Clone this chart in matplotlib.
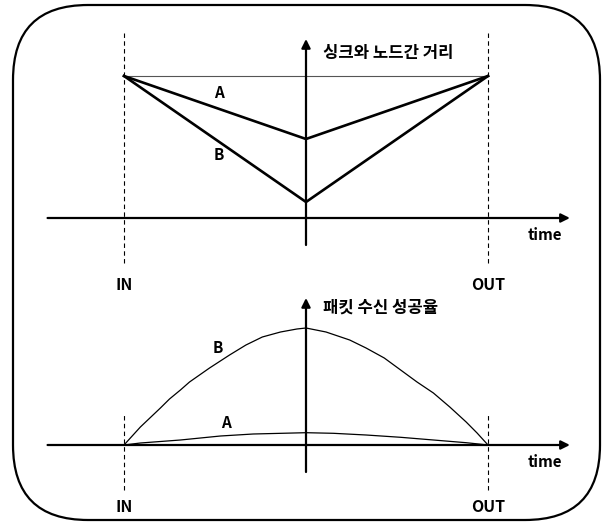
import matplotlib
matplotlib.use('Agg')
import matplotlib.pyplot as plt
from matplotlib.patches import FancyBboxPatch

plt.rcParams['font.family'] = ['Noto Sans CJK KR', 'DejaVu Sans']

# time axis: IN = -1, sink closest = 0, OUT = 1
dist_time = [-1.0, 0.0, 1.0]
# distance between sink and node (top chart)
dist_A = [142, 79, 142]
dist_B = [142, 16, 142]

# packet reception rate (bottom chart)
time_B = [-1.0, -0.91, -0.80, -0.75, -0.69, -0.64, -0.53, -0.42, -0.33,
          -0.24, -0.14, -0.05, 0.0, 0.11, 0.24, 0.33, 0.43, 0.52, 0.61,
          0.70, 0.79, 0.88, 0.94, 1.0]
rate_B = [0, 18, 37, 46, 55, 63, 77, 90, 100, 108, 113, 116, 117, 113,
          105, 97, 87, 75, 63, 52, 38, 23, 12, 0]
time_A = [-1.0, -0.91, -0.69, -0.47, -0.29, 0.0, 0.15, 0.33, 0.52, 0.70,
          0.88, 1.0]
rate_A = [0, 2, 5, 9, 11, 12.3, 11.7, 10, 7.7, 5, 2.3, 0]

title_top = '싱크와 노드간 거리'
title_bottom = '패킷 수신 성공율'
x_labels = ['IN', 'OUT']
x_marks = [-1.0, 1.0]


def draw_frame(ax, ylo, ytop, dash_lo, dash_hi):
    # x axis with arrow
    ax.annotate('', xy=(1.45, 0), xytext=(-1.42, 0),
                arrowprops=dict(arrowstyle='-|>', lw=1.6, color='black',
                                mutation_scale=13, shrinkA=0, shrinkB=0))
    # y axis with arrow
    ax.annotate('', xy=(0, ytop), xytext=(0, ylo),
                arrowprops=dict(arrowstyle='-|>', lw=1.6, color='black',
                                mutation_scale=13, shrinkA=0, shrinkB=0))
    # dashed IN / OUT markers
    for x in x_marks:
        ax.plot([x, x], [dash_lo, dash_hi], color='black', lw=0.8,
                linestyle=(0, (4, 3)))
    ax.text(1.31, -17, 'time', ha='center', va='center', fontsize=11,
            fontweight='bold')


def main():
    fig = plt.figure(figsize=(6.06, 5.24), dpi=100)

    # Rounded border round the whole picture
    bg = fig.add_axes([0, 0, 1, 1])
    bg.set_xlim(0, 606)
    bg.set_ylim(524, 0)
    bg.axis('off')
    bg.add_patch(FancyBboxPatch((13, 5), 587, 515,
                                boxstyle='round,pad=0,rounding_size=75',
                                fill=False, lw=1.6, edgecolor='black'))

    xlim = (-306 / 182, 300 / 182)

    # Top chart: distance
    ax1 = fig.add_axes([0, 254 / 524, 1, 250 / 524])
    ax1.set_xlim(xlim)
    ax1.set_ylim(-52, 198)
    ax1.axis('off')
    draw_frame(ax1, -27, 179, -45, 185)
    ax1.plot([dist_time[0], dist_time[-1]], [dist_A[0], dist_A[-1]],
             color='#555555', lw=0.8)
    ax1.plot(dist_time, dist_A, color='black', lw=1.9)
    ax1.plot(dist_time, dist_B, color='black', lw=1.9)
    ax1.text(0.093, 165, title_top, ha='left', va='center', fontsize=12,
             fontweight='bold')
    ax1.text(-0.478, 125, 'A', ha='center', va='center', fontsize=11,
             fontweight='bold')
    ax1.text(-0.478, 63, 'B', ha='center', va='center', fontsize=11,
             fontweight='bold')
    for x, lab in zip(x_marks, x_labels):
        ax1.text(x, -67, lab, ha='center', va='center', fontsize=11.5,
                 fontweight='bold', clip_on=False)

    # Bottom chart: packet reception rate
    ax2 = fig.add_axes([0, 4 / 524, 1, 250 / 524])
    ax2.set_xlim(xlim)
    ax2.set_ylim(-75, 175)
    ax2.axis('off')
    draw_frame(ax2, -27, 147, -45, 32)
    ax2.plot(time_B, rate_B, color='black', lw=0.9)
    ax2.plot(time_A, rate_A, color='black', lw=0.9)
    ax2.text(0.093, 137, title_bottom, ha='left', va='center', fontsize=12,
             fontweight='bold')
    ax2.text(-0.484, 97, 'B', ha='center', va='center', fontsize=11,
             fontweight='bold')
    ax2.text(-0.44, 22, 'A', ha='center', va='center', fontsize=11,
             fontweight='bold')
    for x, lab in zip(x_marks, x_labels):
        ax2.text(x, -62, lab, ha='center', va='center', fontsize=11.5,
                 fontweight='bold')

    fig.savefig('out.png', dpi=100)


main()
